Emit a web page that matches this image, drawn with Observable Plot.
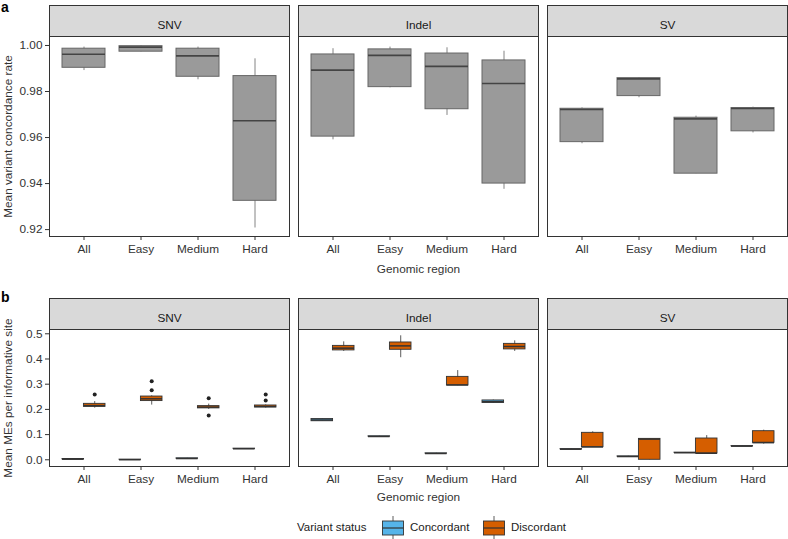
<!DOCTYPE html>
<html><head><meta charset="utf-8">
<script src="https://cdn.jsdelivr.net/npm/d3@7"></script>
<script src="https://cdn.jsdelivr.net/npm/@observablehq/plot@0.6"></script>
<style>
body{margin:0;background:#fff;font-family:"Liberation Sans",Arial,sans-serif;}
#wrap{position:relative;width:788px;height:539px;overflow:hidden;background:#fff}
#chartA,#chartB{display:block;height:auto}
.tag{position:absolute;font-weight:bold;font-size:14px;color:#000;line-height:14px}
#legend{position:relative;height:37px;font-size:11.5px;color:#222}
#legend .it{position:absolute;top:18px;line-height:14px;white-space:nowrap}
#legend svg{position:absolute;top:14px}
</style></head><body>
<div id="wrap">
  <div id="chartA"></div>
  <div id="chartB"></div>
  <div id="legend"></div>
  <div class="tag" style="left:1px;top:0px">a</div>
  <div class="tag" style="left:1px;top:290px">b</div>
</div>
<script>
// ---------- data ----------
const types = ["SNV", "Indel", "SV"];
const regions = ["All", "Easy", "Medium", "Hard"];
const statuses = ["Concordant", "Discordant"];
const statusColors = ["#56B4E9", "#D55E00"];

// Panel a: mean variant concordance rate (order: SNV x4, Indel x4, SV x4)
const aMin = [0.9891, 0.9972, 0.9851, 0.9207, 0.9590, 0.9816, 0.9696, 0.9375, 0.9573, 0.9773, 0.9443, 0.9620];
const aQ1  = [0.9903, 0.9973, 0.9864, 0.9325, 0.9604, 0.9819, 0.9723, 0.9400, 0.9580, 0.9780, 0.9443, 0.9627];
const aMed = [0.9962, 0.9993, 0.9955, 0.9673, 0.9893, 0.9957, 0.9909, 0.9835, 0.9722, 0.9855, 0.9681, 0.9726];
const aQ3  = [0.9986, 0.9997, 0.9986, 0.9867, 0.9961, 0.9983, 0.9965, 0.9935, 0.9725, 0.9858, 0.9686, 0.9728];
const aMax = [0.9993, 0.9999, 0.9993, 0.9942, 0.9986, 0.9993, 0.9990, 0.9975, 0.9729, 0.9860, 0.9693, 0.9732];
const aTicks = [0.92, 0.94, 0.96, 0.98, 1.00];

// Panel b: mean MEs per informative site, Concordant
const cMin = [0.0010, 0.0000, 0.0040, 0.0430, 0.152, 0.0915, 0.0240, 0.224, 0.0410, 0.0120, 0.0270, 0.0530];
const cQ1  = [0.0015, 0.0000, 0.0042, 0.0432, 0.153, 0.0918, 0.0245, 0.2255, 0.0415, 0.0125, 0.0275, 0.0535];
const cMed = [0.0024, 0.0003, 0.0050, 0.0437, 0.158, 0.0925, 0.0250, 0.231, 0.0420, 0.0130, 0.0280, 0.0540];
const cQ3  = [0.0033, 0.0008, 0.0058, 0.0443, 0.162, 0.0932, 0.0255, 0.2355, 0.0425, 0.0135, 0.0285, 0.0545];
const cMax = [0.0040, 0.0010, 0.0060, 0.0445, 0.163, 0.0935, 0.0260, 0.237, 0.0430, 0.0140, 0.0290, 0.0550];
// Panel b: Discordant
const dMin = [0.205, 0.217, 0.200, 0.205, 0.430, 0.405, 0.294, 0.430, 0.050, 0.000, 0.024, 0.062];
const dQ1  = [0.210, 0.233, 0.204, 0.2075, 0.434, 0.4365, 0.295, 0.438, 0.050, 0.000, 0.025, 0.0675];
const dMed = [0.215, 0.242, 0.209, 0.2115, 0.443, 0.452, 0.297, 0.4495, 0.051, 0.082, 0.026, 0.068];
const dQ3  = [0.222, 0.251, 0.213, 0.2155, 0.452, 0.4655, 0.329, 0.460, 0.107, 0.083, 0.0845, 0.1135];
const dMax = [0.231, 0.254, 0.221, 0.218, 0.468, 0.492, 0.354, 0.472, 0.111, 0.083, 0.096, 0.1175];
// Discordant outliers
const outType   = ["SNV", "SNV", "SNV", "SNV", "SNV", "SNV", "SNV"];
const outRegion = ["All", "Easy", "Easy", "Medium", "Medium", "Hard", "Hard"];
const outValue  = [0.259, 0.276, 0.312, 0.244, 0.176, 0.259, 0.235];
const bTicks = [0, 0.1, 0.2, 0.3, 0.4, 0.5];

// ---------- tables ----------
const A = [], B = [];
types.forEach((t, i) => regions.forEach((r, j) => {
  const k = i * 4 + j;
  A.push({type: t, region: r, min: aMin[k], q1: aQ1[k], med: aMed[k], q3: aQ3[k], max: aMax[k]});
  B.push({type: t, region: r, status: statuses[0], min: cMin[k], q1: cQ1[k], med: cMed[k], q3: cQ3[k], max: cMax[k]});
  B.push({type: t, region: r, status: statuses[1], min: dMin[k], q1: dQ1[k], med: dMed[k], q3: dQ3[k], max: dMax[k]});
}));
const O = outValue.map((v, i) => ({type: outType[i], region: outRegion[i], status: statuses[1], value: v}));

// ---------- layout ----------
const W = 788, ML = 49, MR = 1;
const fxPad = 9 / 249;
const fxStep = (W - ML - MR) / (3 - fxPad);
const fxBw = fxStep * (1 - fxPad);
const xBw = 0.75 * fxBw / 4.2;
const half = xBw / 2, quarter = xBw / 4;
const stripH = 31;
const style = {fontFamily: '"Liberation Sans", Arial, sans-serif', fontSize: "11.8px", color: "#333", background: "white", overflow: "visible"};
const fxOpt = {domain: types, paddingInner: fxPad, paddingOuter: 0, axis: null, label: null};
const xOpt = {domain: regions, paddingInner: 0.25, paddingOuter: 0.225};

function strip(panelH) {
  return [
    Plot.frame({fill: "#d9d9d9", stroke: "#333", strokeWidth: 1, insetTop: -stripH, insetBottom: panelH}),
    Plot.text(types, {fx: d => d, text: d => d, frameAnchor: "top", dy: -stripH / 2, fill: "#1a1a1a", fontSize: 11.8}),
    Plot.frame({stroke: "#333", strokeWidth: 1})
  ];
}

// ---------- chart a ----------
const aH = 276, aMT = 36, aMB = 40;
const chartA = Plot.plot({
  width: W, height: aH, marginLeft: ML, marginRight: MR, marginTop: aMT, marginBottom: aMB,
  style,
  fx: fxOpt,
  x: xOpt,
  y: {domain: [0.917, 1.0039]},
  marks: [
    ...strip(aH - aMT - aMB),
    Plot.ruleX(A, {fx: "type", x: "region", y1: "min", y2: "max", stroke: "#666", strokeWidth: 0.8}),
    Plot.barY(A, {fx: "type", x: "region", y1: "q1", y2: "q3", fill: "#9a9a9a", stroke: "#666", strokeWidth: 1}),
    Plot.tickY(A, {fx: "type", x: "region", y: "med", stroke: "#444", strokeWidth: 1.6}),
    Plot.axisY({ticks: aTicks, tickFormat: d3.format(".2f"), tickSize: 4, tickPadding: 3, stroke: "#333",
      label: "Mean variant concordance rate", labelAnchor: "center", labelArrow: "none", labelOffset: 46}),
    Plot.axisX({tickSize: 4, tickPadding: 4, stroke: "#333",
      label: "Genomic region", labelAnchor: "center", labelArrow: "none", labelOffset: 36})
  ]
});
document.getElementById("chartA").appendChild(chartA);

// ---------- chart b ----------
const bH = 226, bMT = 53, bMB = 36;
function boxes(status, side) {
  const data = B.filter(d => d.status === status);
  const ins = {insetLeft: side > 0 ? half : 0, insetRight: side < 0 ? half : 0};
  return [
    Plot.ruleX(data, {fx: "type", x: "region", y1: "min", y2: "max", dx: side * quarter, stroke: "#333", strokeWidth: 0.8}),
    Plot.barY(data, {fx: "type", x: "region", y1: "q1", y2: "q3", fill: "status", stroke: "#333", strokeWidth: 0.9, ...ins}),
    Plot.tickY(data, {fx: "type", x: "region", y: "med", stroke: "#333", strokeWidth: 1.5, ...ins})
  ];
}
const chartB = Plot.plot({
  width: W, height: bH, marginLeft: ML, marginRight: MR, marginTop: bMT, marginBottom: bMB,
  style,
  fx: fxOpt,
  x: xOpt,
  y: {domain: [-0.0266, 0.517]},
  color: {domain: statuses, range: statusColors},
  marks: [
    ...strip(bH - bMT - bMB),
    ...boxes(statuses[0], -1),
    ...boxes(statuses[1], 1),
    Plot.dot(O, {fx: "type", x: "region", y: "value", dx: quarter, r: 2, fill: "#222", stroke: "none"}),
    Plot.axisY({ticks: bTicks, tickFormat: d3.format(".1f"), tickSize: 4, tickPadding: 3, stroke: "#333",
      label: "Mean MEs per informative site", labelAnchor: "center", labelArrow: "none", labelOffset: 46}),
    Plot.axisX({tickSize: 4, tickPadding: 4, stroke: "#333",
      label: "Genomic region", labelAnchor: "center", labelArrow: "none", labelOffset: 34})
  ]
});
document.getElementById("chartB").appendChild(chartB);

// ---------- legend ----------
const leg = document.getElementById("legend");
const swatch = c => `<svg width="22" height="24" viewBox="0 0 22 24"><line x1="11" x2="11" y1="0" y2="24" stroke="#333" stroke-width="0.8"/><rect x="0.5" y="5" width="21" height="14" fill="${c}" stroke="#333" stroke-width="0.9"/><line x1="0.5" x2="21.5" y1="12" y2="12" stroke="#333" stroke-width="1.2"/></svg>`;
leg.innerHTML =
  `<span class="it" style="left:297px">Variant status</span>` +
  `<span style="position:absolute;left:382px;top:0">${swatch(statusColors[0])}</span>` +
  `<span class="it" style="left:410px">${statuses[0]}</span>` +
  `<span style="position:absolute;left:483px;top:0">${swatch(statusColors[1])}</span>` +
  `<span class="it" style="left:511px">${statuses[1]}</span>`;
</script>
</body></html>
